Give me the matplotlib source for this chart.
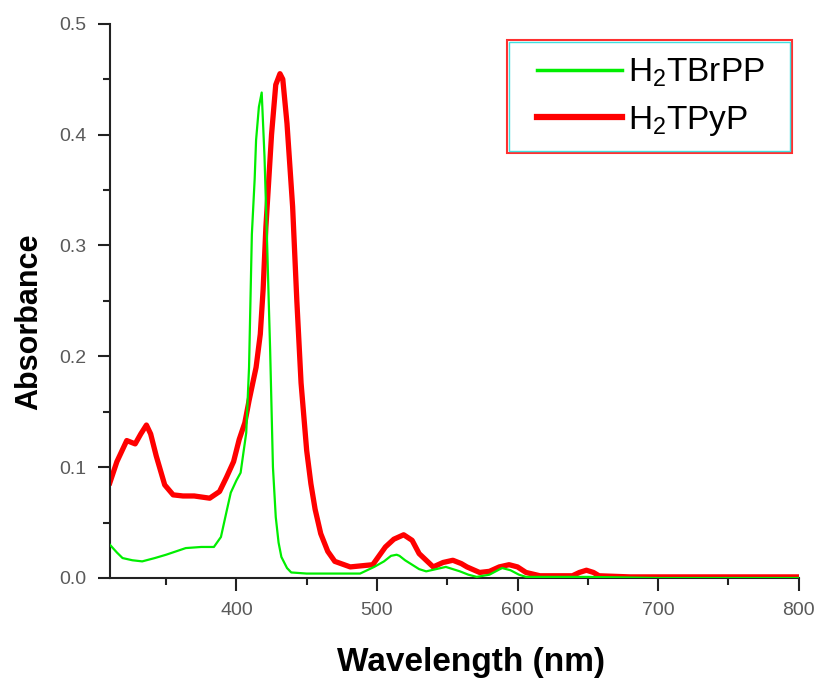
import matplotlib
matplotlib.use('Agg')
import matplotlib.pyplot as plt
from matplotlib.patches import Rectangle

plt.rcParams['font.family'] = ['Liberation Sans', 'DejaVu Sans']
plt.rcParams['mathtext.default'] = 'regular'

# H2TBrPP (green)
tbrpp_nm = [310, 315, 319, 326, 333, 342, 350, 357, 364, 375, 384, 389, 393, 396,
            400, 403, 407, 409, 411, 413, 414, 416, 418, 420, 422, 423, 424, 426,
            428, 430, 432, 436, 439, 450, 460, 488, 498, 505, 510, 514, 516, 520,
            525, 530, 535, 542, 549, 554, 559, 565, 571, 580, 589, 595, 601, 606,
            650, 700, 800]
tbrpp_abs = [0.030, 0.023, 0.018, 0.016, 0.015, 0.018, 0.021, 0.024, 0.027, 0.028,
             0.028, 0.037, 0.060, 0.077, 0.088, 0.095, 0.131, 0.190, 0.310, 0.360,
             0.395, 0.425, 0.438, 0.380, 0.296, 0.250, 0.206, 0.100, 0.055, 0.032,
             0.019, 0.009, 0.005, 0.004, 0.004, 0.004, 0.010, 0.015, 0.020, 0.021,
             0.020, 0.016, 0.012, 0.008, 0.006, 0.008, 0.010, 0.008, 0.006, 0.003,
             0.001, 0.003, 0.009, 0.007, 0.003, 0.001, 0.001, 0.000, 0.000]

# H2TPyP (red)
tpyp_nm = [310, 315, 322, 328, 332, 336, 339, 343, 349, 355, 362, 370, 381, 388,
           393, 398, 402, 406, 409, 414, 417, 419, 421, 425, 428, 431, 433, 436,
           440, 443, 446, 450, 453, 456, 460, 465, 470, 481, 497, 506, 512, 519,
           525, 530, 540, 547, 554, 560, 564, 573, 580, 587, 594, 600, 606, 616,
           639, 644, 649, 654, 658, 680, 800]
tpyp_abs = [0.086, 0.105, 0.124, 0.121, 0.130, 0.138, 0.130, 0.110, 0.084, 0.075,
            0.074, 0.074, 0.072, 0.078, 0.091, 0.105, 0.125, 0.140, 0.160, 0.190,
            0.220, 0.260, 0.317, 0.400, 0.445, 0.455, 0.450, 0.410, 0.335, 0.250,
            0.176, 0.115, 0.085, 0.062, 0.040, 0.024, 0.015, 0.010, 0.012, 0.028,
            0.035, 0.039, 0.034, 0.022, 0.010, 0.014, 0.016, 0.013, 0.010, 0.005,
            0.006, 0.010, 0.012, 0.010, 0.005, 0.002, 0.002, 0.005, 0.007, 0.005,
            0.002, 0.001, 0.001]

fig = plt.figure(figsize=(8.2, 6.8), dpi=100)
ax = fig.add_axes([0.134, 0.15, 0.84, 0.815])

ax.plot(tbrpp_nm, tbrpp_abs, color='#00ee00', lw=1.6, label='H$_2$TBrPP', zorder=3)
ax.plot(tpyp_nm, tpyp_abs, color='#ff0000', lw=3.8, label='H$_2$TPyP', zorder=2)

ax.set_xlim(310, 800)
ax.set_ylim(0, 0.5)
ax.set_xticks([400, 500, 600, 700, 800])
ax.set_xticks([350, 450, 550, 650, 750], minor=True)
ax.set_yticks([0.0, 0.1, 0.2, 0.3, 0.4, 0.5])
ax.set_yticks([0.05, 0.15, 0.25, 0.35, 0.45], minor=True)
ax.set_yticklabels(['0.0', '0.1', '0.2', '0.3', '0.4', '0.5'])

for s in ['top', 'right']:
    ax.spines[s].set_visible(False)
for s in ['left', 'bottom']:
    ax.spines[s].set_linewidth(1.5)
    ax.spines[s].set_color('#222222')

ax.tick_params(which='major', direction='out', length=9, width=1.5,
               colors='#222222', labelcolor='#5a5a5a', labelsize=14, pad=8)
ax.tick_params(which='minor', direction='out', length=5, width=1.5, colors='#222222')

ax.set_xlabel('Wavelength (nm)', fontsize=24, fontweight='bold')
ax.xaxis.set_label_coords(0.525, -0.124)
ax.set_ylabel('Absorbance', fontsize=22, fontweight='bold')
ax.yaxis.set_label_coords(-0.096, 0.462)

# legend without frame, box drawn by hand (red outside, cyan inside)
leg = ax.legend(loc='upper left', bbox_to_anchor=(0.6197, 0.941), fontsize=24,
                handlelength=2.55, handletextpad=0.18, borderpad=0,
                borderaxespad=0, labelspacing=0.45, frameon=False)
leg.get_lines()[0].set_linewidth(2.5)
leg.get_lines()[1].set_linewidth(4.5)

ax.add_patch(Rectangle((0.576, 0.767), 0.415, 0.204, transform=ax.transAxes,
                       fill=False, edgecolor='#ff3030', lw=1.5, zorder=10,
                       clip_on=False))
ax.add_patch(Rectangle((0.579, 0.771), 0.409, 0.196, transform=ax.transAxes,
                       fill=False, edgecolor='#40e0e0', lw=1.0, zorder=10,
                       clip_on=False))

fig.savefig('out.png', dpi=100)
